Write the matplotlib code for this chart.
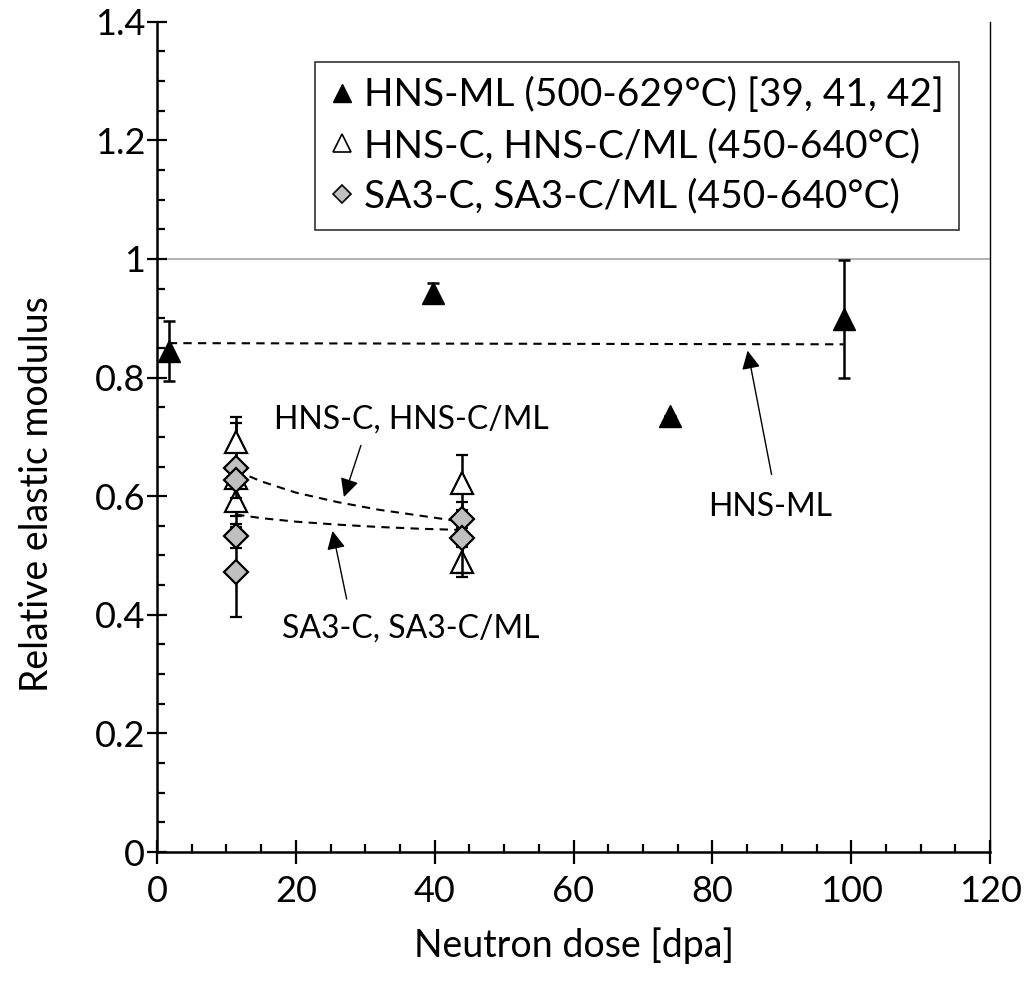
import matplotlib
matplotlib.use("Agg")
import matplotlib.pyplot as plt
from matplotlib.lines import Line2D
from matplotlib.ticker import MultipleLocator

plt.rcParams['font.family'] = ['Lato', 'DejaVu Sans']

# HNS-ML (filled triangles)
hns_ml_x = [1.7, 39.8, 73.9, 98.9]
hns_ml_y = [0.845, 0.943, 0.735, 0.899]
hns_ml_err = [0.05, 0.017, 0.0, 0.10]

# HNS-C, HNS-C/ML (open triangles)
hns_c_x = [11.4, 11.4, 11.4, 43.9, 43.9]
hns_c_y = [0.691, 0.630, 0.592, 0.622, 0.489]
hns_c_err = [0.042, 0.093, 0.025, 0.047, 0.025]

# SA3-C, SA3-C/ML (grey diamonds)
sa3_x = [11.4, 11.4, 11.4, 11.4, 43.9, 43.9]
sa3_y = [0.648, 0.627, 0.533, 0.472, 0.562, 0.530]
sa3_err = [0.01, 0.03, 0.02, 0.076, 0.015, 0.06]

# trend lines
fit_ml_x = [1.7, 98.9]
fit_ml_y = [0.858, 0.856]
fit_c_x = [11.4, 15, 20, 26, 32, 38, 43.9]
fit_c_y = [0.643, 0.625, 0.606, 0.590, 0.577, 0.567, 0.557]
fit_sa3_x = [11.4, 15, 20, 26, 32, 38, 43.9]
fit_sa3_y = [0.569, 0.563, 0.557, 0.552, 0.548, 0.545, 0.543]

labels = ['HNS-ML (500-629°C) [39, 41, 42]',
          'HNS-C, HNS-C/ML (450-640°C)',
          'SA3-C, SA3-C/ML (450-640°C)']

fig = plt.figure(figsize=(10.26, 9.85), dpi=100)
ax = fig.add_axes([0.153, 0.135, 0.812, 0.843])

ax.axhline(1.0, color='#a6a6a6', lw=1.2, zorder=1)

dash = (0, (4, 3))
ax.plot(fit_ml_x, fit_ml_y, ls=dash, color='black', lw=1.5, zorder=2)
ax.plot(fit_c_x, fit_c_y, ls=dash, color='black', lw=1.5, zorder=2)
ax.plot(fit_sa3_x, fit_sa3_y, ls=dash, color='black', lw=1.5, zorder=2)

ax.errorbar(hns_ml_x, hns_ml_y, yerr=hns_ml_err, fmt='^', ms=16, color='black',
            mfc='black', mec='black', ecolor='black', elinewidth=1.8, capsize=4.5,
            capthick=1.8, zorder=4)
ax.errorbar(hns_c_x, hns_c_y, yerr=hns_c_err, fmt='^', ms=15.5, mfc='white',
            mec='black', mew=1.6, ecolor='black', elinewidth=1.8, capsize=4.5,
            capthick=1.8, zorder=3)
ax.errorbar(sa3_x, sa3_y, yerr=sa3_err, fmt='D', ms=12, mfc='#c0c0c0',
            mec='black', mew=1.6, ecolor='black', elinewidth=1.8, capsize=4.5,
            capthick=1.8, zorder=5)

arrow = dict(arrowstyle='-|>', color='black', lw=1.0, mutation_scale=28)
ax.annotate('', xy=(26.8, 0.594), xytext=(29.5, 0.69), arrowprops=arrow)
ax.annotate('', xy=(25.2, 0.546), xytext=(27.4, 0.422), arrowprops=arrow)
ax.annotate('', xy=(85.0, 0.850), xytext=(88.6, 0.632), arrowprops=arrow)
ax.text(36.6, 0.73, 'HNS-C, HNS-C/ML', fontsize=23, ha='center', va='center')
ax.text(36.6, 0.376, 'SA3-C, SA3-C/ML', fontsize=23, ha='center', va='center')
ax.text(88.3, 0.582, 'HNS-ML', fontsize=23, ha='center', va='center')

ax.set_xlim(0, 120)
ax.set_ylim(0, 1.4)
ax.xaxis.set_major_locator(MultipleLocator(20))
ax.xaxis.set_minor_locator(MultipleLocator(5))
ax.yaxis.set_minor_locator(MultipleLocator(0.05))
ax.set_yticks([0, 0.2, 0.4, 0.6, 0.8, 1.0, 1.2, 1.4])
ax.set_yticklabels(['0', '0.2', '0.4', '0.6', '0.8', '1', '1.2', '1.4'])

ax.tick_params(axis='x', which='major', direction='inout', length=17, width=1.6,
               labelsize=26, pad=8)
ax.tick_params(axis='y', which='major', direction='inout', length=14, width=1.6,
               labelsize=26, pad=1.5)
ax.tick_params(which='minor', direction='in', length=6, width=1.6)

for s in ['left', 'bottom']:
    ax.spines[s].set_linewidth(1.8)
ax.spines['right'].set_linewidth(1.0)
ax.spines['top'].set_visible(False)

ax.set_xlabel('Neutron dose [dpa]', fontsize=27, labelpad=14)
ax.set_ylabel('Relative elastic modulus', fontsize=27)
ax.yaxis.set_label_coords(-0.122, 0.431)

handles = [
    Line2D([], [], ls='none', marker='^', ms=13, mfc='black', mec='black'),
    Line2D([], [], ls='none', marker='^', ms=13, mfc='white', mec='black', mew=1.2),
    Line2D([], [], ls='none', marker='D', ms=9, mfc='#c0c0c0', mec='black', mew=1.2),
]
leg = ax.legend(handles, labels, loc='upper right', bbox_to_anchor=(0.963, 0.952),
                fontsize=28, frameon=True, fancybox=False, edgecolor='black',
                handlelength=0.6, handletextpad=0.25, borderpad=0.4,
                labelspacing=0.38, borderaxespad=0)
leg.get_frame().set_linewidth(1.2)

fig.savefig('out.png', dpi=100)
